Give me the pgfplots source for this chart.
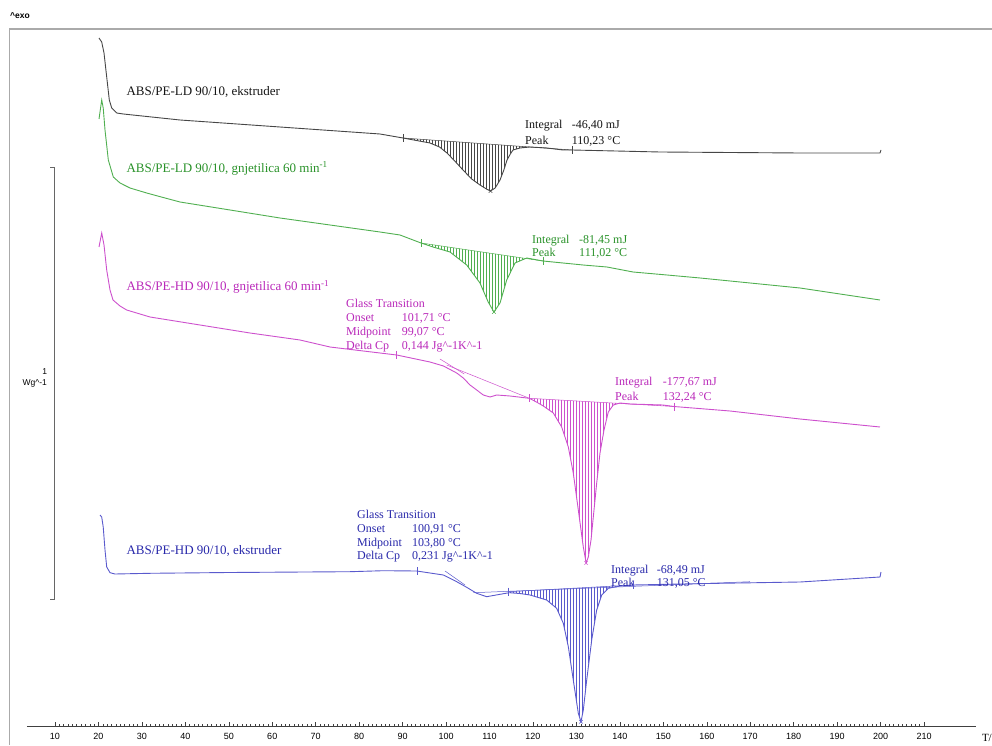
\documentclass[border=0pt]{standalone}
\usepackage{fontspec}
\setmainfont{Liberation Serif}
\setsansfont{Liberation Sans}
\usepackage{pgfplots}
\pgfplotsset{compat=1.18}
\usepgfplotslibrary{fillbetween}
\usetikzlibrary{patterns}

\definecolor{lblk}{RGB}{70,70,70}
\definecolor{tblk}{RGB}{20,20,20}
\definecolor{lgrn}{RGB}{80,175,80}
\definecolor{tgrn}{RGB}{40,145,40}
\definecolor{lmag}{RGB}{205,80,205}
\definecolor{tmag}{RGB}{185,40,185}
\definecolor{lblu}{RGB}{90,90,205}
\definecolor{tblu}{RGB}{40,40,170}
\definecolor{frame}{RGB}{170,170,170}

\begin{document}
\begin{tikzpicture}
\begin{axis}[
    x=4.345pt, y=1pt,
    xmin=3.5, xmax=222, ymin=0, ymax=697,
    axis x line*=bottom, axis y line=none,
    clip=false,
    xtick={10,20,...,210},
    minor x tick num=9,
    tick align=inside,
    major tick length=4.5pt, minor tick length=2.5pt,
    axis line style={black!75, line width=0.6pt},
    tick style={black!75, line width=0.5pt},
    /pgf/number format/assume math mode=true,
    xticklabel style={font=\sffamily\fontsize{9}{10}\selectfont, yshift=-3.5pt},
    every axis plot/.append style={line width=0.9pt},
  ]

% frame of the instrument window
\draw[frame, line width=1.4pt] (axis cs:-0.52,-19) -- (axis cs:-0.52,697) -- (axis cs:225.7,697);

% ABS/PE-LD 90/10, ekstruder
\addplot[lblk, name path=blk] coordinates {
 (20.13,688) (20.75,684) (21.28,673) (21.90,649) (22.50,626) (23.05,618) (24.20,613)
 (25.72,612) (38.77,606) (61.78,599) (84.80,592) (90.09,588) (96.30,583) (98.5,579)
 (100.22,573) (102.0,565) (103.90,556) (105.9,547) (107.81,541) (109.3,537) (110.23,535)
 (111.3,538) (112.42,546) (113.3,556) (114.03,566) (114.8,572) (115.41,576) (117.0,578)
 (119.32,579) (123.23,578) (126.92,576) (128.99,576) (149.24,574) (181.46,573)
 (199.87,573) (200.1,576)};
\addplot[lblk, line width=0.5pt, name path=blkb] coordinates {(90.09,588) (128.99,576)};
\addplot[pattern=vertical lines, pattern color=lblk, draw=none]
  fill between[of=blk and blkb, soft clip={domain=90.09:128.99}];

% ABS/PE-LD 90/10, gnjetilica
\addplot[lgrn, name path=grn] coordinates {
 (20.13,607) (20.75,626) (21.10,618) (21.51,596) (22.27,566) (23.42,549) (24.96,543)
 (27.26,538) (31.10,533) (34.9,528.5) (38.77,524) (50.28,516) (61.78,508) (73.29,501) (84.80,494)
 (89.40,491) (94.23,483) (97.0,479) (100.91,474) (104.75,461) (107.81,443) (109.7,424)
 (111.02,414) (112.42,423) (113.96,446) (115.87,463) (118.56,468) (122.31,465)
 (131.52,461) (137.04,459) (143.03,454) (150.85,451) (158.45,448) (181.46,438) (199.87,426)};
\addplot[lgrn, line width=0.5pt, name path=grnb] coordinates {(94.23,483) (122.31,465)};
\addplot[pattern=vertical lines, pattern color=lgrn, draw=none]
  fill between[of=grn and grnb, soft clip={domain=94.23:122.31}];

% ABS/PE-HD 90/10, gnjetilica
\addplot[lmag, name path=mag] coordinates {
 (20.13,479) (20.75,493) (21.28,481) (21.90,456) (22.66,436) (23.35,426) (24.96,420)
 (26.49,416) (31.86,409) (43.37,401) (54.88,393) (66.39,386) (73.29,379) (88.64,371)
 (96.30,364) (99.4,360) (102.45,353) (103.97,348) (105.51,341) (107.05,336) (108.57,331)
 (110.12,329) (111.66,331) (114.72,330) (119.16,327.7) (120.8,324) (122.38,320)
 (124.68,313) (126.61,299) (128.14,279) (129.28,253) (130.44,216) (131.59,179)
 (132.24,163) (132.74,169) (133.36,186) (133.89,209) (134.67,243) (135.43,273)
 (136.35,296) (137.34,314) (138.49,321) (140.03,323) (142.33,322) (149.93,321)
 (152.46,319.5) (165.35,315) (181.46,307) (199.87,299)};
\addplot[lmag, line width=0.5pt] coordinates {(100.15,361) (119.16,327.7)};
\addplot[lmag, line width=0.5pt] coordinates {(98.6,367) (104.2,352)};
\addplot[lmag, line width=0.5pt, name path=magb] coordinates {(119.16,327.7) (152.46,319.5)};
\addplot[pattern=vertical lines, pattern color=lmag, draw=none]
  fill between[of=mag and magb, soft clip={domain=119.16:152.46}];

% ABS/PE-HD 90/10, ekstruder
\addplot[lblu, name path=blu] coordinates {
 (20.36,211) (20.75,209) (21.10,199) (21.51,176) (21.90,159) (22.66,153.3) (23.81,152)
 (31.86,152.7) (50,153.5) (77.89,154.3) (85.56,155.3) (93.24,155) (99.37,151)
 (102.45,144.3) (104.75,138.7) (107.05,132.7) (109.35,129.3) (112.42,131.7) (114.56,133.3)
 (117.0,132.5) (119.32,131) (123.16,126) (125.46,117.7) (126.99,102.7) (128.14,79.3)
 (129.28,46) (130.44,12.7) (131.05,4.3) (131.59,16) (132.37,46) (133.52,86) (134.67,116)
 (135.82,131) (137.34,137.7) (140.03,140) (143.1,141) (160,142.5) (181.46,144)
 (199.87,149) (200.1,154)};
\addplot[lblu, line width=0.5pt] coordinates {(106.3,133.3) (169.95,144.3)};
\addplot[lblu, line width=0.5pt] coordinates {(99.76,155) (104.36,141)};
\addplot[lblu, line width=0.5pt, name path=blub] coordinates {(114.3,134.3) (143.1,141)};
\addplot[pattern=vertical lines, pattern color=lblu, draw=none]
  fill between[of=blu and blub, soft clip={domain=114.3:143.1}];

% evaluation limits and peak marks
\addplot[lblk, only marks, mark=|, mark size=4pt, line width=0.6pt] coordinates {(90.09,588) (128.99,576)};
\addplot[lblk, only marks, mark=x, mark size=2.5pt, line width=0.5pt] coordinates {(110.23,535)};
\addplot[lgrn, only marks, mark=|, mark size=4pt, line width=0.6pt] coordinates {(94.23,483) (122.31,465)};
\addplot[lgrn, only marks, mark=x, mark size=2.5pt, line width=0.5pt] coordinates {(111.02,414)};
\addplot[lmag, only marks, mark=|, mark size=4pt, line width=0.6pt] coordinates {(88.64,371) (119.16,327.7) (152.46,319.5)};
\addplot[lmag, only marks, mark=x, mark size=2.5pt, line width=0.5pt] coordinates {(132.24,163)};
\addplot[lblu, only marks, mark=|, mark size=4pt, line width=0.6pt] coordinates {(93.31,155) (114.3,134.3) (143.1,141)};
\addplot[lblu, only marks, mark=x, mark size=2.5pt, line width=0.5pt] coordinates {(131.05,4.3)};

% curve names
\node[anchor=base west, tblk, font=\fontsize{13}{15}\selectfont] at (axis cs:25.65,630) {ABS/PE-LD 90/10, ekstruder};
\node[anchor=base west, tgrn, font=\fontsize{13}{15}\selectfont] at (axis cs:25.65,553.7) {ABS/PE-LD 90/10, gnjetilica 60 min\textsuperscript{-1}};
\node[anchor=base west, tmag, font=\fontsize{13}{15}\selectfont] at (axis cs:25.65,435) {ABS/PE-HD 90/10, gnjetilica 60 min\textsuperscript{-1}};
\node[anchor=base west, tblu, font=\fontsize{13}{15}\selectfont] at (axis cs:25.65,171.7) {ABS/PE-HD 90/10, ekstruder};

% evaluation results
\begin{scope}[every node/.style={anchor=base west, inner sep=0pt, font=\fontsize{12}{14}\selectfont}]
\node[tblk] at (axis cs:118.17,597) {Integral};
\node[tblk] at (axis cs:128.92,597) {-46,40 mJ};
\node[tblk] at (axis cs:118.17,581.3) {Peak};
\node[tblk] at (axis cs:128.92,581.3) {110,23 °C};

\node[tgrn] at (axis cs:119.78,482) {Integral};
\node[tgrn] at (axis cs:130.6,482) {-81,45 mJ};
\node[tgrn] at (axis cs:119.78,469.5) {Peak};
\node[tgrn] at (axis cs:130.6,469.5) {111,02 °C};

\node[tmag] at (axis cs:76.97,418) {Glass Transition};
\node[tmag] at (axis cs:76.97,404) {Onset};
\node[tmag] at (axis cs:89.79,404) {101,71 °C};
\node[tmag] at (axis cs:76.97,390) {Midpoint};
\node[tmag] at (axis cs:89.79,390) {99,07 °C};
\node[tmag] at (axis cs:76.97,376.3) {Delta Cp};
\node[tmag] at (axis cs:89.79,376.3) {0,144 Jg\textasciicircum-1K\textasciicircum-1};
\node[tmag] at (axis cs:138.88,340.3) {Integral};
\node[tmag] at (axis cs:149.86,340.3) {-177,67 mJ};
\node[tmag] at (axis cs:138.88,325.3) {Peak};
\node[tmag] at (axis cs:149.86,325.3) {132,24 °C};

\node[tblu] at (axis cs:79.5,208) {Glass Transition};
\node[tblu] at (axis cs:79.5,194) {Onset};
\node[tblu] at (axis cs:92.16,194) {100,91 °C};
\node[tblu] at (axis cs:79.5,180) {Midpoint};
\node[tblu] at (axis cs:92.16,180) {103,80 °C};
\node[tblu] at (axis cs:79.5,166.3) {Delta Cp};
\node[tblu] at (axis cs:92.16,166.3) {0,231 Jg\textasciicircum-1K\textasciicircum-1};
\node[tblu] at (axis cs:137.96,153) {Integral};
\node[tblu] at (axis cs:148.48,153) {-68,49 mJ};
\node[tblu] at (axis cs:137.96,140) {Peak};
\node[tblu] at (axis cs:148.48,140) {131,05 °C};
\end{scope}

% scale bar 1 W/g
\draw[black!60, line width=0.7pt] (axis cs:8.85,559) -- (axis cs:9.9,559) -- (axis cs:9.9,127) -- (axis cs:8.85,127);
\node[anchor=east, inner sep=0pt, font=\sffamily\fontsize{8.5}{9}\selectfont] at (axis cs:8.2,354) {1};
\node[anchor=east, inner sep=0pt, font=\sffamily\fontsize{8.5}{9}\selectfont] at (axis cs:8.2,343) {Wg\textasciicircum-1};
\node[anchor=west, inner sep=0pt, font=\sffamily\bfseries\fontsize{8.5}{9}\selectfont] at (axis cs:-0.36,710) {\textasciicircum exo};
\node[anchor=west, inner sep=0pt, font=\fontsize{11}{12}\selectfont] at (axis cs:223.3,-12) {T/};

\coordinate (BL) at (axis cs:-2.658,-19);
\coordinate (TR) at (axis cs:225.65,726);
\end{axis}
\pgfresetboundingbox
\path (BL) rectangle (TR);
\end{tikzpicture}
\end{document}
